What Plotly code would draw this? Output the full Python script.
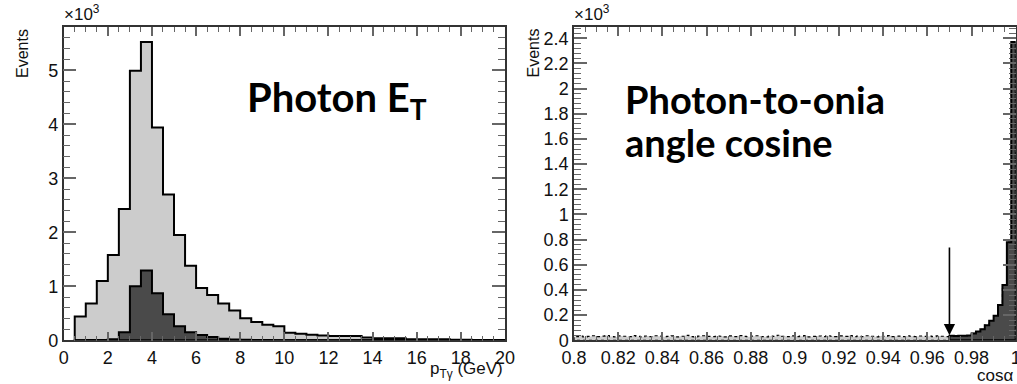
import numpy as np
import plotly.graph_objects as go

# ---------------- data (values in units of 10^3 events) ----------------
pt_edges_lo = 0.5
pt_bin_w = 0.5
pt_all = [0.44, 0.68, 1.10, 1.58, 2.43, 4.99, 5.52, 3.94, 2.70, 1.95,
          1.38, 0.97, 0.84, 0.68, 0.55, 0.41, 0.34, 0.29, 0.26, 0.14,
          0.12, 0.105, 0.087, 0.08, 0.08, 0.08, 0.05, 0.037, 0.037, 0.037,
          0.02, 0.02, 0.02, 0.02, 0.01, 0.008, 0.006, 0.005, 0.004]
pt_sel = [0.003, 0.004, 0.006, 0.02, 0.15, 1.00, 1.29, 0.87, 0.48, 0.26,
          0.15, 0.10, 0.06, 0.03, 0.015, 0.008, 0.005, 0.004, 0.003, 0.002,
          0.002, 0.001, 0.001, 0.001, 0.0, 0.0, 0.0, 0.0, 0.0, 0.0,
          0.0, 0.0, 0.0, 0.0, 0.0, 0.0, 0.0, 0.0, 0.0]

cos_lo = 0.8
cos_bin_w = 0.002
cos_all_low = [0.030, 0.034, 0.028, 0.031, 0.036, 0.029, 0.033, 0.038, 0.030, 0.027,
               0.035, 0.032, 0.029, 0.037, 0.031, 0.028, 0.034, 0.030, 0.036, 0.033,
               0.029, 0.031, 0.035, 0.028, 0.032, 0.039, 0.030, 0.027, 0.033, 0.036,
               0.031, 0.029, 0.034, 0.032, 0.028, 0.035, 0.030, 0.037, 0.031, 0.029,
               0.033, 0.036, 0.030, 0.028, 0.034, 0.031, 0.040, 0.032, 0.029, 0.035,
               0.030, 0.033, 0.037, 0.028, 0.031, 0.034, 0.029, 0.036, 0.032, 0.030,
               0.035, 0.031, 0.038, 0.029, 0.033, 0.030, 0.036, 0.032, 0.028, 0.034,
               0.031, 0.037, 0.030, 0.033, 0.029, 0.035, 0.032, 0.030, 0.034, 0.031,
               0.033, 0.029, 0.035, 0.032, 0.030]
cos_sel = [0.036, 0.035, 0.037, 0.036, 0.038, 0.055, 0.07, 0.087, 0.12, 0.155,
           0.195, 0.28, 0.44, 0.78, 2.37]
cos_cut = 0.97

pt_ticks = [0, 2, 4, 6, 8, 10, 12, 14, 16, 18, 20]
pt_yticks = [0, 1, 2, 3, 4, 5]
cos_xticks = [0.8, 0.82, 0.84, 0.86, 0.88, 0.9, 0.92, 0.94, 0.96, 0.98, 1.0]
cos_xtext = ["0.8", "0.82", "0.84", "0.86", "0.88", "0.9", "0.92", "0.94", "0.96", "0.98", "1"]
cos_yticks = [0, 0.2, 0.4, 0.6, 0.8, 1.0, 1.2, 1.4, 1.6, 1.8, 2.0, 2.2, 2.4]
cos_ytext = ["0", "0.2", "0.4", "0.6", "0.8", "1", "1.2", "1.4", "1.6", "1.8", "2", "2.2", "2.4"]

LIGHT = "#cccccc"
DARK = "#4a4a4a"


def step_polygon(lo, w, vals):
    """Closed outline of a histogram (bin edges from lo, width w)."""
    vals = np.asarray(vals, dtype=float)
    edges = np.round(lo + w * np.arange(len(vals) + 1), 6)
    xs = [edges[0]]
    ys = [0.0]
    for i, v in enumerate(vals):
        xs += [edges[i], edges[i + 1]]
        ys += [v, v]
    xs += [edges[-1], edges[0]]
    ys += [0.0, 0.0]
    return np.array(xs), np.array(ys)


def add_hist(fig, lo, w, vals, fillc, xa, ya, width=2, dash="solid"):
    x, y = step_polygon(lo, w, vals)
    fig.add_trace(go.Scatter(x=x, y=y, mode="lines",
                             line=dict(color="black", width=width, dash=dash, simplify=False),
                             fill="toself", fillcolor=fillc, xaxis=xa, yaxis=ya, hoverinfo="skip"))


fig = go.Figure()
add_hist(fig, pt_edges_lo, pt_bin_w, pt_all, LIGHT, "x", "y")
add_hist(fig, pt_edges_lo, pt_bin_w, pt_sel, DARK, "x", "y")
add_hist(fig, cos_lo, cos_bin_w, cos_all_low + cos_sel, LIGHT, "x2", "y2", width=1.2, dash="dot")
add_hist(fig, cos_cut, cos_bin_w, cos_sel, DARK, "x2", "y2")

W, H = 1017, 384
FONT = "Liberation Sans, Arial, sans-serif"
tickfont = dict(family=FONT, size=18, color="#111")
AX = "#333333"
TK = "#666666"

common = dict(showgrid=False, zeroline=False, showline=True, linecolor=AX, linewidth=1.5,
              mirror="allticks", ticks="inside", tickcolor=TK, tickwidth=1.5,
              tickfont=tickfont, fixedrange=True, automargin=False, ticklabeloverflow="allow")

y_dom = [1 - 340.3 / H, 1 - 27 / H]
fig.update_layout(
    width=W, height=H, margin=dict(l=0, r=0, t=0, b=0, autoexpand=False),
    paper_bgcolor="white", plot_bgcolor="white", showlegend=False,
    xaxis=dict(domain=[63.7 / W, 505 / W], range=[0, 20], tickvals=pt_ticks, ticklen=9,
               minor=dict(dtick=0.5, ticklen=5, ticks="inside", tickcolor=TK, tickwidth=1.2),
               anchor="y", **common),
    yaxis=dict(domain=y_dom, range=[0, 5.8], tickvals=pt_yticks, ticklen=13,
               minor=dict(dtick=0.2, ticklen=7, ticks="inside", tickcolor=TK, tickwidth=1.2),
               anchor="x", **common),
    xaxis2=dict(domain=[574 / W, 1015.7 / W], range=[0.8, 1.0], tickvals=cos_xticks, ticktext=cos_xtext,
                ticklen=9,
                minor=dict(dtick=0.005, ticklen=5, ticks="inside", tickcolor=TK, tickwidth=1.2),
                anchor="y2", **common),
    yaxis2=dict(domain=y_dom, range=[0, 2.49], tickvals=cos_yticks, ticktext=cos_ytext, ticklen=13,
                minor=dict(dtick=0.04, ticklen=7, ticks="inside", tickcolor=TK, tickwidth=1.2),
                anchor="x2", **common),
)

ann_font = dict(family=FONT, size=17, color="#111")
big_font = dict(family="Lato, sans-serif", size=38, color="black")
anns = [
    dict(text="Events", textangle=-90, x=22.5 / W, y=1 - 53.5 / H, font=dict(family=FONT, size=16, color="#111")),
    dict(text="Events", textangle=-90, x=532.5 / W, y=1 - 53 / H, font=dict(family=FONT, size=16, color="#111")),
    dict(text="×10<sup>3</sup>", x=62 / W, y=1 - 26 / H, xanchor="left", yanchor="bottom", font=ann_font),
    dict(text="×10<sup>3</sup>", x=572 / W, y=1 - 26 / H, xanchor="left", yanchor="bottom", font=ann_font),
    dict(text="p<sub>Tγ</sub> (GeV)", x=505 / W, y=1 - 357 / H, xanchor="right", yanchor="top", font=ann_font),
    dict(text="cosα", x=1015 / W, y=1 - 364 / H, xanchor="right", yanchor="top", font=ann_font),
    dict(text="<b>Photon E<sub>T</sub></b>", x=245 / W, y=1 - 99 / H, xanchor="left", yanchor="middle",
         font=dict(family="Lato, sans-serif", size=40, color="black")),
    dict(text="<b>Photon-to-onia</b>", x=623 / W, y=1 - 99 / H, xanchor="left", yanchor="middle",
         font=big_font),
    dict(text="<b>angle cosine</b>", x=623 / W, y=1 - 142 / H, xanchor="left", yanchor="middle",
         font=big_font),
]
for a in anns:
    a.setdefault("xanchor", "center")
    a.setdefault("yanchor", "middle")
    fig.add_annotation(xref="paper", yref="paper", showarrow=False, **a)

fig.add_annotation(x=cos_cut, y=0.04, ax=cos_cut, ay=0.75, xref="x2", yref="y2", axref="x2", ayref="y2",
                   text="", showarrow=True, arrowhead=2, arrowsize=1.4, arrowwidth=1.6, arrowcolor="black")

fig.write_html("out.html", config={"displayModeBar": False})
